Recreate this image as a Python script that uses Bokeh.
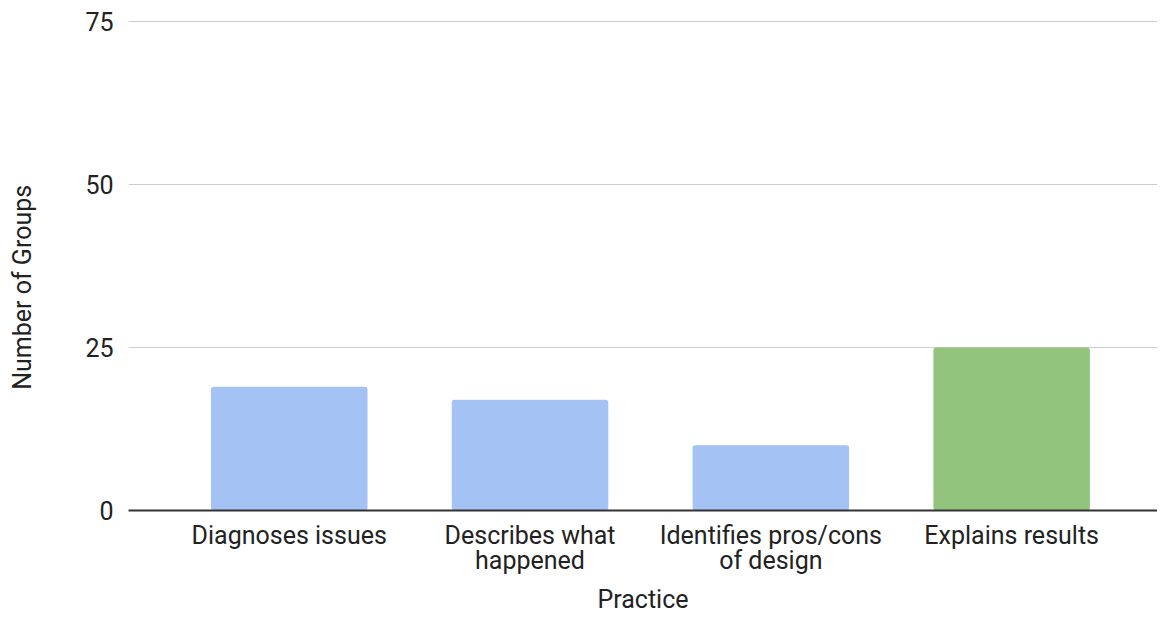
import math
from bokeh.plotting import figure
from bokeh.layouts import row
from bokeh.models import Range1d, FixedTicker, ColumnDataSource
from bokeh.core.properties import value
from bokeh.embed import file_html
from bokeh.resources import INLINE

categories = ["Diagnoses issues", "Describes what\nhappened", "Identifies pros/cons\nof design", "Explains results"]
values = [19, 17, 10, 25]
bar_colors = ["#a4c2f4", "#a4c2f4", "#a4c2f4", "#93c47d"]
y_ticks = [0, 25, 50, 75]
x_title = "Practice"
y_title = "Number of Groups"

font = "Roboto"
fs = "25px"
H = 617
LEFT_W = 60

# narrow strip holding the vertical axis title
left = figure(width=LEFT_W, height=H, output_backend="svg", toolbar_location=None,
              x_range=Range1d(0, LEFT_W), y_range=Range1d(0, H),
              x_axis_location=None, y_axis_location=None, min_border=0)
left.outline_line_color = None
left.grid.visible = False
left.text(x=[22], y=[H - 336], text=[y_title], angle=math.pi / 2,
          text_align="center", text_baseline="middle",
          text_font=value(font), text_font_size=fs, text_color="#222222")

xs = list(range(len(categories)))
source = ColumnDataSource(dict(x=xs, top=values, color=bar_colors))

p = figure(width=1157 - LEFT_W, height=H, output_backend="svg", toolbar_location=None,
           x_range=Range1d(-0.6675, 3.6057), y_range=Range1d(0, 75.2),
           min_border_left=128 - LEFT_W, min_border_right=0, min_border_top=20, min_border_bottom=106)
p.outline_line_color = None
p.background_fill_color = "white"

p.vbar(x="x", top="top", width=0.65, bottom=0, color="color", line_color=None,
       border_radius=3, source=source)

# y axis
ya = p.yaxis[0]
ya.ticker = FixedTicker(ticks=y_ticks)
ya.axis_line_color = None
ya.major_tick_line_color = None
ya.minor_tick_line_color = None
ya.major_label_text_font = font
ya.major_label_text_font_size = fs
ya.major_label_text_color = "#222222"
ya.major_label_standoff = 9

# x axis
xa = p.xaxis[0]
xa.ticker = FixedTicker(ticks=xs)
xa.major_label_overrides = {i: c for i, c in zip(xs, categories)}
xa.axis_line_color = "#333333"
xa.axis_line_width = 2
xa.major_tick_line_color = None
xa.minor_tick_line_color = None
xa.major_label_text_font = font
xa.major_label_text_font_size = fs
xa.major_label_text_color = "#222222"
xa.major_label_text_line_height = 0.88
xa.major_label_standoff = 4
xa.axis_label = x_title
xa.axis_label_text_font = font
xa.axis_label_text_font_size = fs
xa.axis_label_text_font_style = "normal"
xa.axis_label_text_color = "#222222"
xa.axis_label_text_line_height = 1.0
xa.axis_label_standoff = 7

p.xgrid.grid_line_color = None
p.ygrid.grid_line_color = "#cccccc"
p.ygrid.grid_line_width = 1

layout = row(left, p, spacing=0)
open("out.html", "w").write(file_html(layout, INLINE))
